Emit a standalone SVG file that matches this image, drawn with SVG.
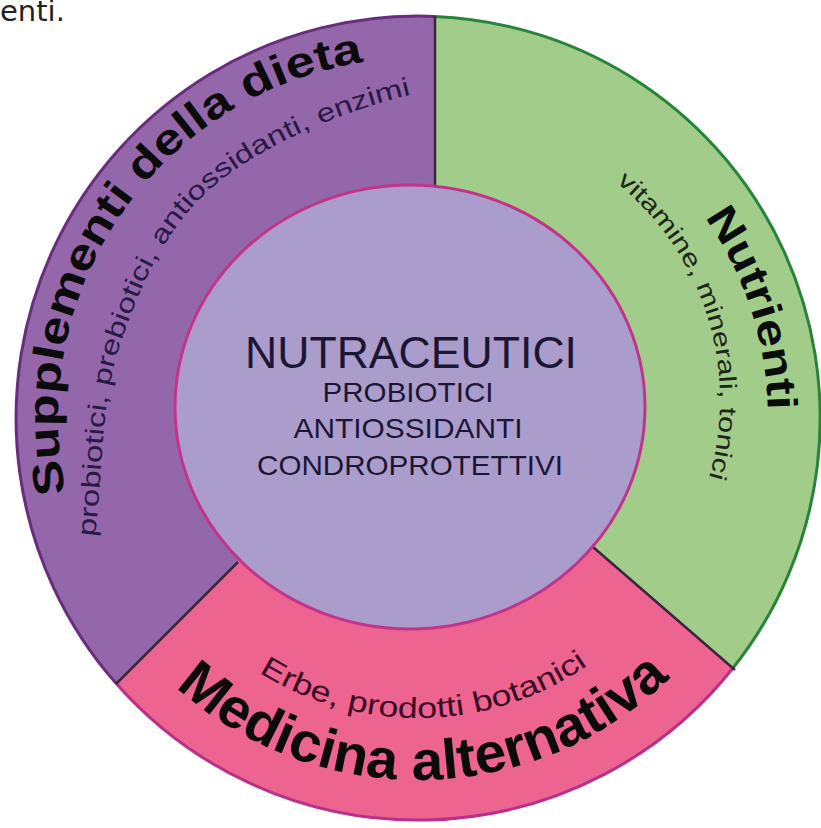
<svg xmlns="http://www.w3.org/2000/svg" width="821" height="828" viewBox="0 0 821 828">
<style>
.big{font-family:"Liberation Sans",Arial,sans-serif;font-weight:bold;fill:#0b0b0b}
.small{font-family:"Liberation Sans",Arial,sans-serif;font-weight:normal}
.center{font-family:"Liberation Sans",Arial,sans-serif;fill:#1b1633;text-anchor:middle}
.div{stroke:#3a2440;stroke-width:2.5;fill:none}
</style>
<defs>
<path id="pSupp" d="M 65.9 492.8 A 360 360 0 0 1 367.9 61.5"/>
<path id="pProb" d="M 95 537 C 103.3 473 100 403.7 120 345 C 140 286.3 165 227 215 185 C 265 143 353.3 106.3 420 93"/>
<path id="pNutr" d="M 704.7 217.2 A 350 350 0 0 1 767.9 411.9"/>
<path id="pVit" d="M 616.2 182.4 A 280 280 0 0 1 707.8 481.9"/>
<path id="pMed" d="M 175.8 687.0 A 362 362 0 0 0 671.7 676.2"/>
<path id="pErbe" d="M 259.0 672.4 A 300 300 0 0 0 590.1 663.7"/>
</defs>
<rect width="821" height="828" fill="#ffffff"/>
<text x="0" y="21" font-family="DejaVu Sans, sans-serif" font-size="29" fill="#222222">enti.</text>

<g id="supplementi">
<path d="M 116 683.3 A 402 402 0 0 1 435 16.4 L 435 186 L 418 420 L 238 562 Z" fill="#9467aa"/>
<path d="M 116 683.3 A 402 402 0 0 1 435 16.4" fill="none" stroke="#6a2c7e" stroke-width="3"/>
<text class="big" font-size="43"><textPath href="#pSupp" textLength="586" lengthAdjust="spacingAndGlyphs">Supplementi della dieta</textPath></text>
<text class="small" font-size="26" fill="#271a44"><textPath href="#pProb" textLength="600" lengthAdjust="spacingAndGlyphs">probiotici, prebiotici, antiossidanti, enzimi</textPath></text>
</g>

<g id="nutrienti">
<path d="M 435 16.4 A 402 402 0 0 1 733 668 L 593 547 L 435 400 Z" fill="#a1cc89"/>
<path d="M 435 16.4 A 402 402 0 0 1 733 668" fill="none" stroke="#27843a" stroke-width="3"/>
<text class="big" font-size="42"><textPath href="#pNutr" textLength="206" lengthAdjust="spacingAndGlyphs">Nutrienti</textPath></text>
<text class="small" font-size="24" fill="#1d2418"><textPath href="#pVit" textLength="328" lengthAdjust="spacingAndGlyphs">vitamine, minerali, tonici</textPath></text>
</g>

<g id="medicina">
<path d="M 593 547 L 733 668 A 402 402 0 0 1 116 683.3 L 238 562 L 418 420 Z" fill="#ec648f"/>
<path d="M 733 668 A 402 402 0 0 1 116 683.3" fill="none" stroke="#b8308a" stroke-width="3"/>
<text class="big" font-size="56"><textPath href="#pMed" textLength="544" lengthAdjust="spacingAndGlyphs">Medicina alternativa</textPath></text>
<text class="small" font-size="29" fill="#3d0c24"><textPath href="#pErbe" textLength="348" lengthAdjust="spacingAndGlyphs">Erbe, prodotti botanici</textPath></text>
</g>

<g id="connectors">
<line class="div" x1="435" y1="16" x2="435" y2="190"/>
<line class="div" x1="238" y1="562" x2="116" y2="684"/>
<line class="div" x1="593" y1="547" x2="735" y2="670"/>
</g>

<g id="nutraceutici">
<ellipse cx="410" cy="407" rx="235" ry="222" fill="#ab9dcb" stroke="#c2338c" stroke-width="3"/>
<text class="center" x="411" y="368" font-size="44" textLength="332" lengthAdjust="spacingAndGlyphs">NUTRACEUTICI</text>
<text class="center" x="408" y="402" font-size="28" textLength="171" lengthAdjust="spacingAndGlyphs">PROBIOTICI</text>
<text class="center" x="408" y="438" font-size="28" textLength="229" lengthAdjust="spacingAndGlyphs">ANTIOSSIDANTI</text>
<text class="center" x="410" y="475" font-size="28" textLength="306" lengthAdjust="spacingAndGlyphs">CONDROPROTETTIVI</text>
</g>
</svg>
